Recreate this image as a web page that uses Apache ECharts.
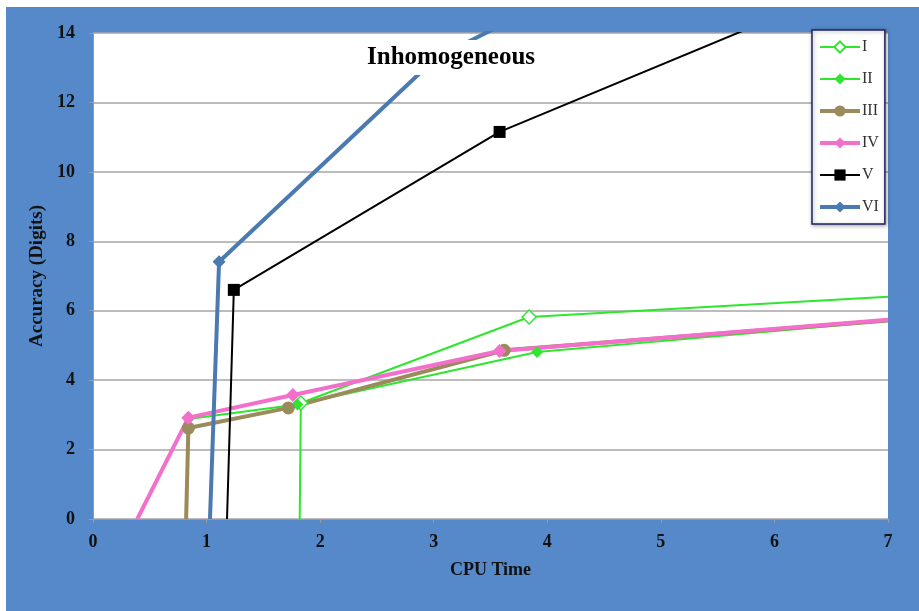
<!DOCTYPE html>
<html lang="en">
  <head>
    <meta charset="UTF-8" />
    <title>Inhomogeneous</title>
    <style>
      html, body { margin: 0; padding: 0; background: #fff; }
      #chart { position: absolute; left: 6px; top: 7px; width: 913px; height: 604px; }
    </style>
  </head>
  <body>
    <div id="chart"></div>
    <script src="https://cdn.jsdelivr.net/npm/echarts@6/dist/echarts.min.js"></script>
    <script>
      // values (x = CPU time, y = digits)
      var seriesNames = ['I', 'II', 'III', 'IV', 'V', 'VI'];
      var xI = [1.82, 1.83, 3.84, 7.0];
      var yI = [0, 3.34, 5.82, 6.40];
      var xII = [0.82, 0.84, 1.80, 3.91, 7.0];
      var yII = [0, 2.88, 3.30, 4.81, 5.70];
      var xIII = [0.82, 0.84, 1.72, 3.62, 7.0];
      var yIII = [0, 2.62, 3.20, 4.86, 5.72];
      var xIV = [0.39, 0.84, 1.76, 3.58, 7.0];
      var yIV = [0, 2.92, 3.57, 4.84, 5.74];
      var xV = [1.18, 1.24, 3.58, 7.0];
      var yV = [0, 6.60, 11.15, 15.8];
      var xVI = [1.03, 1.11, 3.02, 6.5];
      var yVI = [0, 7.41, 13.28, 19.0];

      var xTicks = [0, 1, 2, 3, 4, 5, 6, 7];
      var yTicks = [0, 2, 4, 6, 8, 10, 12, 14];

      var serif = "'Liberation Serif', 'Times New Roman', serif";
      var xMax = xTicks[xTicks.length - 1];
      var lineWidths = [2, 2, 4, 4, 2, 4];

      // points on the plot edge get no marker (the lines run on past them)
      function pts(xs, ys) {
        return xs.map(function (x, i) {
          var d = { value: [x, ys[i]] };
          if (i === 0 || x >= xMax) d.symbol = 'none';
          return d;
        });
      }

      function mk(name, xs, ys, color, width, symbol, size, fill) {
        return {
          name: name,
          type: 'line',
          data: pts(xs, ys),
          clip: true,
          symbol: symbol,
          symbolSize: size,
          showAllSymbol: true,
          lineStyle: { color: color, width: width },
          itemStyle: { color: fill || color, borderColor: color, borderWidth: fill ? 1.5 : 0 },
          emphasis: { disabled: true },
          animation: false
        };
      }

      var chart = echarts.init(document.getElementById('chart'));
      chart.setOption({
        backgroundColor: '#5589c9',
        animation: false,
        title: {
          text: 'Inhomogeneous',
          left: 355,
          top: 33,
          padding: [5, 6],
          backgroundColor: '#fff',
          textStyle: { fontFamily: serif, fontWeight: 'bold', fontSize: 25, color: '#000' }
        },
        grid: {
          left: 87, right: 31, top: 26, bottom: 92,
          show: true, backgroundColor: '#fff', borderWidth: 0
        },
        legend: {
          orient: 'vertical',
          left: 806,
          top: 23,
          padding: [9, 6, 9, 6],
          itemWidth: 40,
          itemHeight: 14,
          itemGap: 16,
          backgroundColor: '#fff',
          borderColor: '#20205e',
          borderWidth: 1.5,
          shadowColor: 'rgba(0,0,0,0.35)',
          shadowBlur: 4,
          shadowOffsetX: 1,
          shadowOffsetY: 1,
          data: seriesNames.map(function (n, i) {
            return { name: n, lineStyle: { width: lineWidths[i] } };
          }),
          textStyle: { fontFamily: serif, fontSize: 16, color: '#333', padding: [0, 0, 0, -3] }
        },
        xAxis: {
          type: 'value',
          min: xTicks[0],
          max: xMax,
          interval: 1,
          name: 'CPU Time',
          nameLocation: 'middle',
          nameGap: 42,
          nameTextStyle: { fontFamily: serif, fontWeight: 'bold', fontSize: 18, color: '#111' },
          axisLine: { show: true, lineStyle: { color: '#9a9a9a', width: 1 } },
          axisTick: { show: true, length: 4, lineStyle: { color: '#9a9a9a' } },
          axisLabel: { margin: 14, fontFamily: serif, fontWeight: 'bold', fontSize: 18, color: '#111' },
          splitLine: { show: false }
        },
        yAxis: {
          type: 'value',
          min: yTicks[0],
          max: yTicks[yTicks.length - 1],
          interval: 2,
          name: 'Accuracy (Digits)',
          nameLocation: 'middle',
          nameGap: 43,
          nameRotate: 90,
          nameTextStyle: { fontFamily: serif, fontWeight: 'bold', fontSize: 19, color: '#111' },
          axisLine: { show: true, lineStyle: { color: '#9a9a9a', width: 1 } },
          axisTick: { show: true, length: 4, lineStyle: { color: '#9a9a9a' } },
          axisLabel: { margin: 18, fontFamily: serif, fontWeight: 'bold', fontSize: 18, color: '#111' },
          splitLine: { show: true, lineStyle: { color: '#a6a6a6', width: 1.5 } }
        },
        series: [
          mk('I', xI, yI, '#2fe62f', lineWidths[0], 'diamond', 14, '#fff'),
          mk('II', xII, yII, '#2fe62f', lineWidths[1], 'diamond', 12),
          mk('III', xIII, yIII, '#9a8b5b', lineWidths[2], 'circle', 13),
          mk('IV', xIV, yIV, '#f46fcb', lineWidths[3], 'diamond', 14),
          mk('V', xV, yV, '#000', lineWidths[4], 'rect', 12),
          mk('VI', xVI, yVI, '#4a7ab0', lineWidths[5], 'diamond', 13)
        ]
      });
    </script>
  </body>
</html>
